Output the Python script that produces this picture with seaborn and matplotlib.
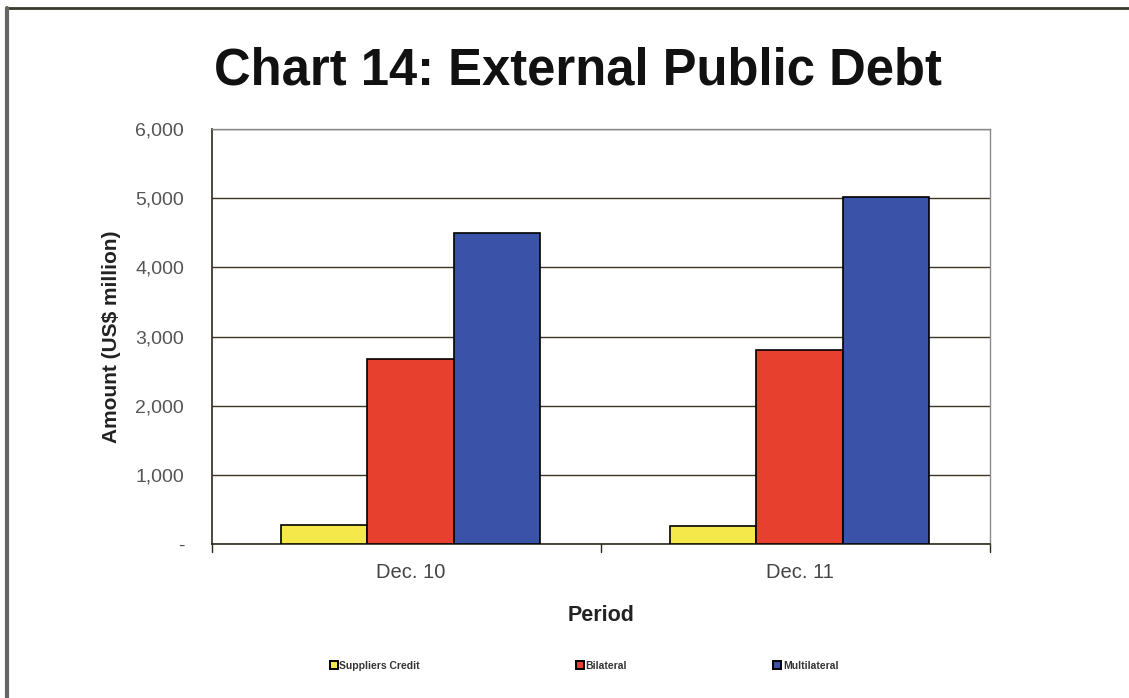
import matplotlib
matplotlib.use("Agg")
import matplotlib.pyplot as plt
from matplotlib.lines import Line2D
from matplotlib.ticker import FuncFormatter
import seaborn as sns
import pandas as pd

periods = ["Dec. 10", "Dec. 11"]
series = ["Suppliers Credit", "Bilateral", "Multilateral"]
suppliers_credit = [275, 260]
bilateral = [2670, 2800]
multilateral = [4495, 5015]
colors = ["#f4e84a", "#e8402e", "#3a52a8"]

rows = []
for name, vals in zip(series, [suppliers_credit, bilateral, multilateral]):
    for p, v in zip(periods, vals):
        rows.append({"Period": p, "Type": name, "Amount": v})
df = pd.DataFrame(rows)

sns.set_style("white")
plt.rcParams["font.family"] = ["Liberation Sans", "DejaVu Sans"]

fig = plt.figure(figsize=(11.29, 6.98), dpi=100)
ax = fig.add_axes([0.1878, 0.2206, 0.6892, 0.5946])

sns.barplot(data=df, x="Period", y="Amount", hue="Type", hue_order=series,
            palette=colors, edgecolor="black", linewidth=1.2, width=0.666,
            saturation=1, legend=False, ax=ax, zorder=3)

ax.set_ylim(0, 6000)
ax.set_xlim(-0.51, 1.49)
ax.set_yticks(range(0, 6001, 1000))
ax.yaxis.set_major_formatter(FuncFormatter(lambda v, _: "-" if v == 0 else f"{int(v):,}"))
ax.grid(axis="y", color="#3a3420", linewidth=1.0, zorder=0)
ax.set_axisbelow(True)

for s in ["top", "right"]:
    ax.spines[s].set_color("#8a8a8a")
    ax.spines[s].set_linewidth(1.0)
for s in ["left", "bottom"]:
    ax.spines[s].set_color("#2a2a1a")
    ax.spines[s].set_linewidth(1.2)

ax.tick_params(axis="y", direction="out", length=6, width=1, colors="#2a2a1a",
               labelcolor="#555555", labelsize=14, pad=14)
ax.tick_params(axis="x", direction="out", length=0, labelcolor="#444444",
               labelsize=14.5, pad=14)
# category-axis ticks sit between categories
for xt in [-0.51, 0.49, 1.49]:
    ax.plot([xt, xt], [0, -110], color="#2a2a1a", lw=1, clip_on=False)

ax.set_xlabel("Period", fontsize=15.5, fontweight="bold", color="#222222", labelpad=16)
ax.set_ylabel("Amount (US$ million)", fontsize=15, fontweight="bold", color="#222222", labelpad=10)

fig.text(0.512, 0.898, "Chart 14: External Public Debt", ha="center", va="center",
         fontsize=36.5, fontweight="bold", color="#111111")

# legend entries spread across the bottom
leg_x = [0.292, 0.510, 0.685]
for x, name, c in zip(leg_x, series, colors):
    fig.patches.append(plt.Rectangle((x, 0.041), 0.007, 0.0115, transform=fig.transFigure,
                                     facecolor=c, edgecolor="black", linewidth=1.4))
    fig.text(x + 0.0085, 0.046, name, ha="left", va="center", fontsize=7.5,
             fontweight="bold", color="#333333")

# outer frame of the scanned page
fig.add_artist(Line2D([0.005, 1.0], [0.988, 0.988], transform=fig.transFigure,
                      color="#3a3a2a", lw=2))
fig.add_artist(Line2D([0.006, 0.006], [0.0, 0.988], transform=fig.transFigure,
                      color="#666666", lw=3))

fig.savefig("out.png", dpi=100)
